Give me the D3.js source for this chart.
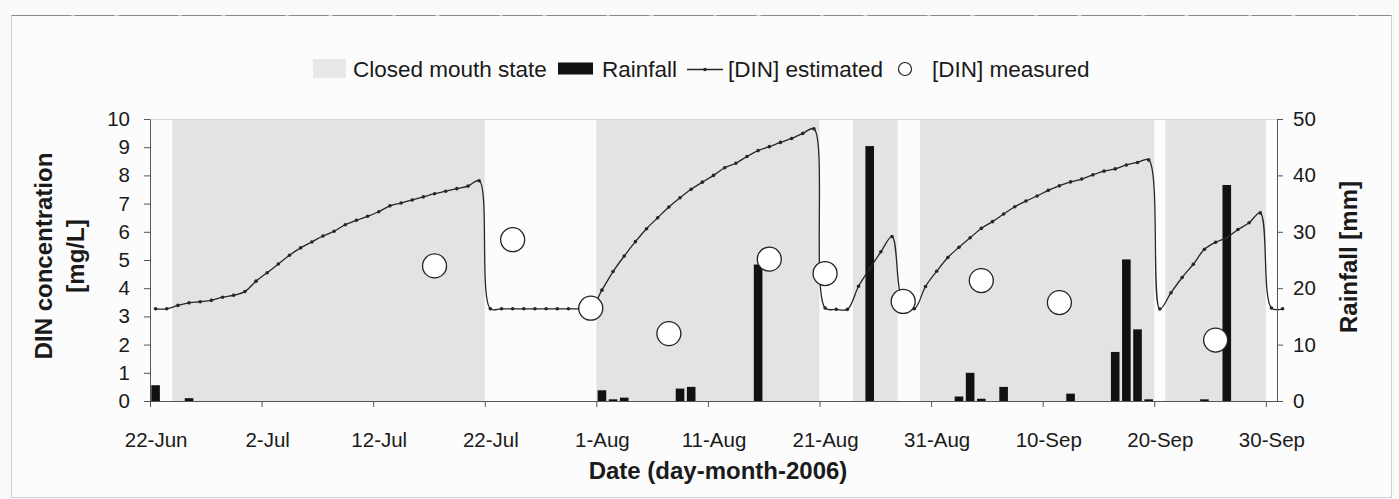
<!DOCTYPE html>
<html>
<head>
<meta charset="utf-8">
<script src="https://cdn.jsdelivr.net/npm/d3@7"></script>
<style>
  body { margin: 0; background: #fafafa; }
  text { font-family: "Liberation Sans", Arial, sans-serif; fill: #1a1a1a; }
</style>
</head>
<body>
<div id="chart"></div>
<script>
// daily [DIN] estimate, one value per day starting 22-Jun-2006
const firstDay = "2006-06-22";
const dinEstimated = [
  3.27, 3.27, 3.39, 3.48, 3.52, 3.57, 3.68, 3.75, 3.88, 4.25,
  4.55, 4.86, 5.17, 5.43, 5.64, 5.85, 6.02, 6.25, 6.41, 6.55,
  6.71, 6.92, 7.02, 7.13, 7.24, 7.35, 7.44, 7.53, 7.62, 7.81,
  3.27, 3.27, 3.27, 3.27, 3.27, 3.27, 3.27, 3.27, 3.27, 3.27,
  3.93, 4.59, 5.14, 5.65, 6.11, 6.50, 6.88, 7.21, 7.51, 7.76,
  8.00, 8.27, 8.43, 8.67, 8.88, 9.02, 9.17, 9.31, 9.49, 9.65,
  3.30, 3.25, 3.25, 4.07, 4.69, 5.29, 5.83, 3.43, 3.27, 4.06,
  4.60, 5.09, 5.45, 5.79, 6.12, 6.36, 6.63, 6.89, 7.09, 7.27,
  7.47, 7.63, 7.77, 7.87, 8.02, 8.15, 8.23, 8.37, 8.46, 8.55,
  3.26, 3.84, 4.38, 4.85, 5.38, 5.63, 5.79, 6.08, 6.32, 6.67,
  3.30, 3.27
];

const measuredDates = ["2006-07-17", "2006-07-24", "2006-07-31", "2006-08-07", "2006-08-16",
                       "2006-08-21", "2006-08-28", "2006-09-04", "2006-09-11", "2006-09-25"];
const measuredValues = [4.79, 5.72, 3.29, 2.39, 5.03, 4.52, 3.53, 4.27, 3.49, 2.16];

const rainDates = ["2006-06-22", "2006-06-25", "2006-08-01", "2006-08-02", "2006-08-03",
                   "2006-08-08", "2006-08-09", "2006-08-15", "2006-08-25", "2006-09-02",
                   "2006-09-03", "2006-09-04", "2006-09-06", "2006-09-12", "2006-09-16",
                   "2006-09-17", "2006-09-18", "2006-09-19", "2006-09-24", "2006-09-26"];
const rainValues = [2.8, 0.5, 1.9, 0.3, 0.6, 2.2, 2.5, 24.2, 45.2, 0.8,
                    5.0, 0.4, 2.5, 1.3, 8.7, 25.1, 12.7, 0.3, 0.3, 38.3];

// closed mouth periods (start inclusive, end exclusive)
const closedStart = ["2006-06-24", "2006-08-01", "2006-08-24", "2006-08-30", "2006-09-21"];
const closedEnd   = ["2006-07-22", "2006-08-21", "2006-08-28", "2006-09-20", "2006-09-30"];

const tickDates = ["2006-06-22", "2006-07-02", "2006-07-12", "2006-07-22", "2006-08-01", "2006-08-11",
                   "2006-08-21", "2006-08-31", "2006-09-10", "2006-09-20", "2006-09-30"];
const tickLabels = ["22-Jun", "2-Jul", "12-Jul", "22-Jul", "1-Aug", "11-Aug",
                    "21-Aug", "31-Aug", "10-Sep", "20-Sep", "30-Sep"];
const dinTicks = [0, 1, 2, 3, 4, 5, 6, 7, 8, 9, 10];
const rainTicks = [0, 10, 20, 30, 40, 50];

const width = 1399;
const height = 499;
const plotL = 150, plotR = 1277, plotT = 119, plotB = 401;

const parse = d3.utcParse("%Y-%m-%d");
const x = d3.scaleUtc()
    .domain([parse("2006-06-22"), parse("2006-10-01")])
    .range([plotL, plotR]);
const dayW = x(parse("2006-06-23")) - x(parse("2006-06-22"));
const mid = d => x(d) + dayW / 2;

const yDin = d3.scaleLinear().domain([0, 10]).range([plotB, plotT]);
const yRain = d3.scaleLinear().domain([0, 50]).range([plotB, plotT]);

const svg = d3.select("#chart")
    .append("svg")
    .attr("width", width)
    .attr("height", height);

svg.append("rect")
    .attr("width", width).attr("height", height)
    .attr("fill", "#fafafa");

// outer frame
svg.append("rect")
    .attr("x", 11.5).attr("y", 15.5)
    .attr("width", 1380).attr("height", 482)
    .attr("fill", "#fcfcfc")
    .attr("stroke", "#cfcfcf");
svg.append("line")
    .attr("x1", 11.5).attr("x2", 1391.5)
    .attr("y1", 15.5).attr("y2", 15.5)
    .attr("stroke", "#8a8a8a")
    .attr("stroke-dasharray", "60 3 40 4");

// shaded closed mouth periods
svg.append("g")
    .selectAll("rect")
    .data(closedStart.map((s, i) => [parse(s), parse(closedEnd[i])]))
    .enter().append("rect")
    .attr("x", d => x(d[0]))
    .attr("width", d => x(d[1]) - x(d[0]))
    .attr("y", plotT)
    .attr("height", plotB - plotT)
    .attr("fill", "#e3e3e3");

svg.append("line")
    .attr("x1", plotL).attr("x2", plotR)
    .attr("y1", plotT + 0.5).attr("y2", plotT + 0.5)
    .attr("stroke", "#dadada");

// rainfall bars
svg.append("g")
    .selectAll("rect")
    .data(rainDates.map((d, i) => ({ date: parse(d), value: rainValues[i] })))
    .enter().append("rect")
    .attr("x", d => mid(d.date) - 4.3)
    .attr("width", 8.6)
    .attr("y", d => yRain(d.value))
    .attr("height", d => plotB - yRain(d.value))
    .attr("fill", "#111");

// estimated DIN line
const start = parse(firstDay);
const din = dinEstimated.map((v, i) => ({ date: d3.utcDay.offset(start, i), value: v }));

const line = d3.line()
    .x(d => mid(d.date))
    .y(d => yDin(d.value))
    .curve(d3.curveCatmullRom.alpha(0.5));

svg.append("path")
    .datum(din)
    .attr("d", line)
    .attr("fill", "none")
    .attr("stroke", "#262626")
    .attr("stroke-width", 1.3);

svg.append("g")
    .selectAll("circle")
    .data(din)
    .enter().append("circle")
    .attr("cx", d => mid(d.date))
    .attr("cy", d => yDin(d.value))
    .attr("r", 1.8)
    .attr("fill", "#262626");

// measured DIN
svg.append("g")
    .selectAll("circle")
    .data(measuredDates.map((d, i) => ({ date: parse(d), value: measuredValues[i] })))
    .enter().append("circle")
    .attr("cx", d => mid(d.date))
    .attr("cy", d => yDin(d.value))
    .attr("r", 12)
    .attr("fill", "#fff")
    .attr("stroke", "#222")
    .attr("stroke-width", 1.3);

// axes
const leftAxis = svg.append("g")
    .attr("transform", `translate(${plotL},0)`)
    .call(d3.axisLeft(yDin).tickValues(dinTicks).tickSize(6).tickSizeOuter(0).tickPadding(14));

const rightAxis = svg.append("g")
    .attr("transform", `translate(${plotR},0)`)
    .call(d3.axisRight(yRain).tickValues(rainTicks).tickSize(6).tickSizeOuter(0).tickPadding(10));

const bottomAxis = svg.append("g")
    .attr("transform", `translate(0,${plotB})`)
    .call(d3.axisBottom(x)
        .tickValues(tickDates.map(parse))
        .tickFormat((d, i) => tickLabels[i])
        .tickSize(6).tickSizeOuter(0));

bottomAxis.selectAll("text")
    .attr("x", dayW / 2)
    .attr("y", 46)
    .attr("dy", 0);

[leftAxis, rightAxis, bottomAxis].forEach(g => {
    g.selectAll("path, line").attr("stroke", "#555");
    g.selectAll("text")
        .style("font-size", "20.5px")
        .style("font-family", "'Liberation Sans', Arial, sans-serif")
        .attr("fill", "#1a1a1a");
});

// axis titles
svg.append("text")
    .attr("transform", "translate(52,256) rotate(-90)")
    .attr("text-anchor", "middle")
    .style("font-size", "24px").style("font-weight", "bold")
    .text("DIN concentration");
svg.append("text")
    .attr("transform", "translate(84,256) rotate(-90)")
    .attr("text-anchor", "middle")
    .style("font-size", "24px").style("font-weight", "bold")
    .text("[mg/L]");
svg.append("text")
    .attr("transform", "translate(1357,257) rotate(-90)")
    .attr("text-anchor", "middle")
    .style("font-size", "24px").style("font-weight", "bold")
    .text("Rainfall [mm]");
svg.append("text")
    .attr("x", 718).attr("y", 479)
    .attr("text-anchor", "middle")
    .style("font-size", "24px").style("font-weight", "bold")
    .text("Date (day-month-2006)");

// legend
const legend = svg.append("g").style("font-size", "22.5px");
legend.append("rect")
    .attr("x", 313).attr("y", 59).attr("width", 33).attr("height", 19)
    .attr("fill", "#e8e8e8");
legend.append("text").attr("x", 353).attr("y", 76.5).text("Closed mouth state");
legend.append("rect")
    .attr("x", 558).attr("y", 62.5).attr("width", 35).attr("height", 12)
    .attr("fill", "#111");
legend.append("text").attr("x", 602).attr("y", 76.5).text("Rainfall");
legend.append("line")
    .attr("x1", 687).attr("x2", 723).attr("y1", 69.5).attr("y2", 69.5)
    .attr("stroke", "#262626").attr("stroke-width", 1.3);
legend.append("circle")
    .attr("cx", 705).attr("cy", 69.5).attr("r", 1.8).attr("fill", "#262626");
legend.append("text").attr("x", 728).attr("y", 76.5).text("[DIN] estimated");
legend.append("circle")
    .attr("cx", 905).attr("cy", 69).attr("r", 6.5)
    .attr("fill", "#fff").attr("stroke", "#222").attr("stroke-width", 1.2);
legend.append("text").attr("x", 932).attr("y", 76.5).text("[DIN] measured");
</script>
</body>
</html>
